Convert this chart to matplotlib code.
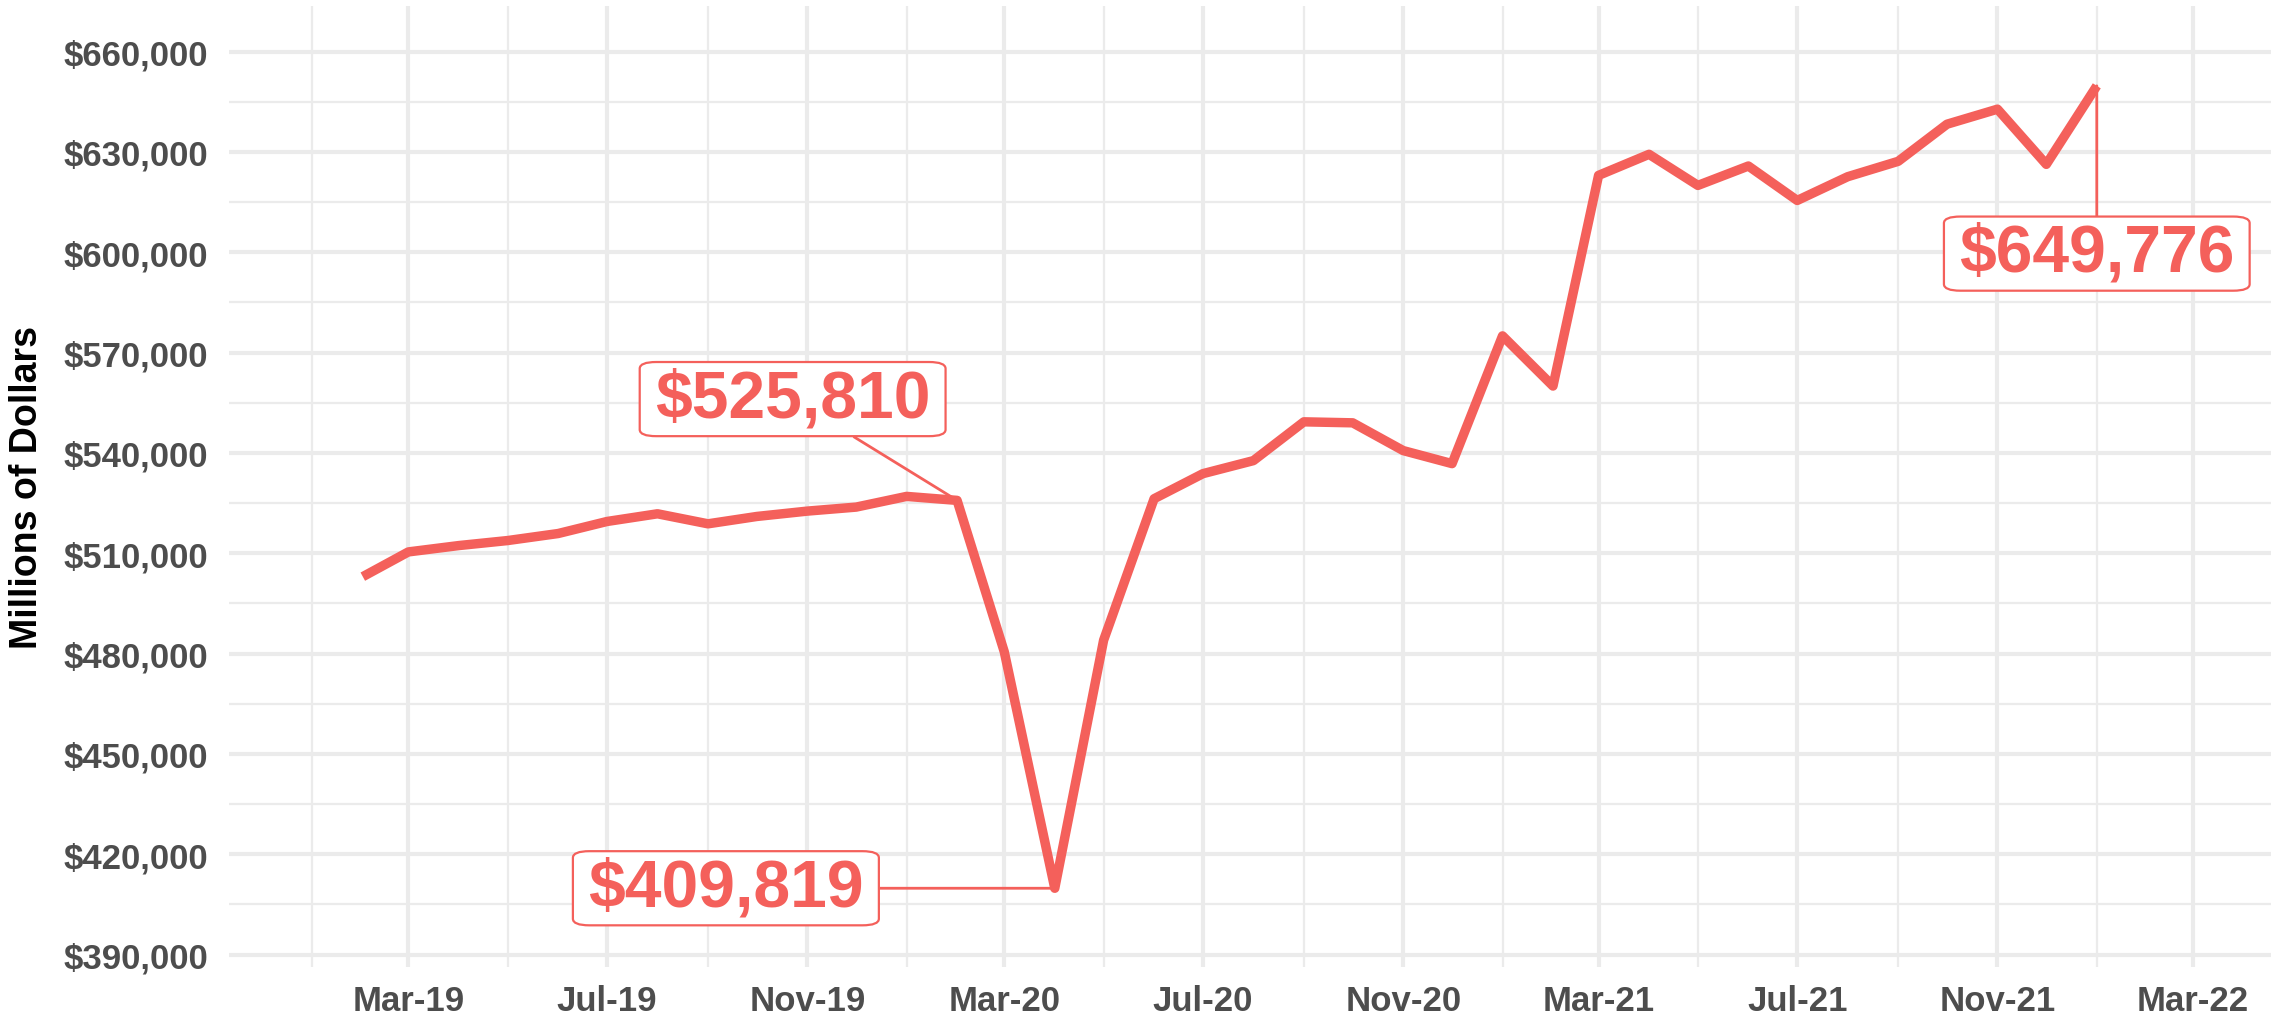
import matplotlib
matplotlib.use("Agg")
import matplotlib.pyplot as plt
import matplotlib.dates as mdates
from matplotlib.ticker import FuncFormatter, MultipleLocator
import numpy as np
import pandas as pd

# ---- data (millions of dollars) ----
months = pd.date_range("2019-02-01", "2022-01-01", freq="MS")
values = [503000, 510400, 512300, 513800, 515900, 519500, 521800, 518800,
          521000, 522600, 523800, 527000, 525810, 480500, 409819, 484000,
          526300, 533800, 537700, 549300, 549000, 540700, 536800, 575000,
          560000, 623000, 629300, 620000, 625800, 615500, 622600, 627200,
          638300, 642800, 626300, 649776]
label_months = ["2020-02-01", "2020-04-01", "2022-01-01"]
y_ticks = [390000, 420000, 450000, 480000, 510000, 540000, 570000, 600000, 630000, 660000]
x_tick_dates = pd.date_range("2019-03-01", "2022-03-01", freq="4MS")
y_label = "Millions of Dollars"

RED = "#F4605B"
GRID = "#EBEBEB"
plt.rcParams['font.family'] = ['Liberation Sans', 'DejaVu Sans']

fig = plt.figure(figsize=(22.84, 10.2), dpi=100)
ax = fig.add_axes([229.3 / 2284, 52 / 1020, (2271 - 229.3) / 2284, (1013 - 52) / 1020])

ax.plot(months, values, color=RED, lw=6.8, solid_joinstyle='round',
        solid_capstyle='butt', zorder=3)

ax.set_xlim(pd.Timestamp("2018-11-11"), pd.Timestamp("2022-04-18"))
ax.set_ylim(386270, 673650)

ax.set_yticks(y_ticks)
ax.yaxis.set_minor_locator(MultipleLocator(15000))
ax.set_xticks(x_tick_dates)
minor_x = pd.date_range("2019-01-01", "2022-01-01", freq="4MS")
ax.set_xticks(minor_x, minor=True)
ax.xaxis.set_major_formatter(mdates.DateFormatter("%b-%y"))
ax.yaxis.set_major_formatter(FuncFormatter(lambda v, p: f"${v:,.0f}"))

ax.grid(which='major', color=GRID, lw=3.0, zorder=0)
ax.grid(which='minor', color=GRID, lw=1.6, zorder=0)
ax.set_axisbelow(True)
for s in ax.spines.values():
    s.set_visible(False)
ax.tick_params(which='both', length=0)
ax.tick_params(axis='y', pad=15, labelsize=25, labelcolor='#4D4D4D')
ax.tick_params(axis='x', pad=12.5, labelsize=25, labelcolor='#4D4D4D')
for t in ax.get_xticklabels() + ax.get_yticklabels():
    t.set_fontweight('bold')

ax.set_ylabel(y_label, fontsize=27, fontweight='bold', color='black')
ax.yaxis.set_label_coords(-0.0905, 0.5)

# annotations (label box centres)
label_pos = [(pd.Timestamp("2019-10-23"), 556100),
             (pd.Timestamp("2019-09-12"), 409819),
             (pd.Timestamp("2022-01-01"), 599600)]
for lm, (lx, ly) in zip(label_months, label_pos):
    d = pd.Timestamp(lm)
    v = values[list(months).index(d)]
    ax.annotate(f"${v:,.0f}", xy=(d, v), xytext=(lx, ly),
                ha='center', va='center', fontsize=47.5, fontweight='bold', color=RED,
                bbox=dict(boxstyle='round,pad=0.23,rounding_size=0.25', fc='white', ec=RED,
                          lw=1.6, mutation_aspect=0.40),
                arrowprops=dict(arrowstyle='-', color=RED, lw=2.0, shrinkA=0, shrinkB=0),
                zorder=5)

fig.savefig("out.png", dpi=100)
